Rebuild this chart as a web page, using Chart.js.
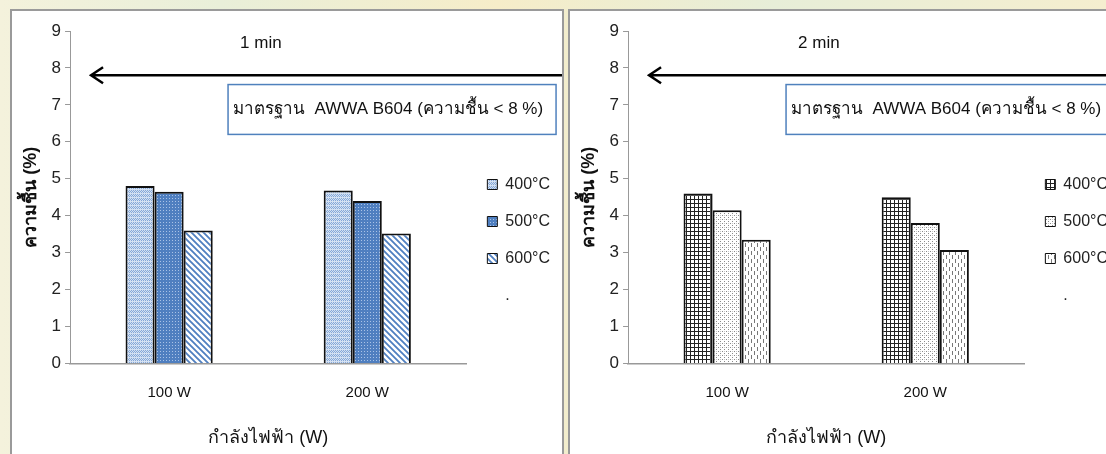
<!DOCTYPE html>
<html>
<head>
<meta charset="utf-8">
<script src="https://cdn.jsdelivr.net/npm/chart.js@4/dist/chart.umd.min.js"></script>
<style>
  html, body { margin: 0; padding: 0; }
  body {
    width: 1106px; height: 454px; overflow: hidden; position: relative;
    background: linear-gradient(90deg, #f4f2dc 0%, #e9efd9 20%, #f6edc9 45%, #e7eed8 70%, #f5eecf 100%);
  }
  .panel {
    position: absolute; top: 9px; height: 470px; background: #fff;
    border: 2px solid #9a9a9a; overflow: hidden;
  }
  #p1 { left: 10px; width: 550px; }
  #p2 { left: 568px; width: 560px; }
  .panel canvas { position: absolute; left: 0; top: 0; }
</style>
</head>
<body>
<div class="panel" id="p1"><canvas id="chart1" width="552" height="443"></canvas></div>
<div class="panel" id="p2"><canvas id="chart2" width="552" height="443"></canvas></div>
<script>
// data
const categories = ["100 W", "200 W"];
const tempLabels = ["400°C", "500°C", "600°C"];
const yTicks = [0, 1, 2, 3, 4, 5, 6, 7, 8, 9];

// 1 min
const oneMin400 = [4.8, 4.68];
const oneMin500 = [4.65, 4.4];
const oneMin600 = [3.6, 3.52];

// 2 min
const twoMin400 = [4.6, 4.5];
const twoMin500 = [4.15, 3.8];
const twoMin600 = [3.35, 3.07];

const FONT = "'Liberation Sans', 'Noto Sans', sans-serif";
const standardText = "มาตรฐาน  AWWA B604 (ความชื้น < 8 %)";

// little tiles for the hatch fills
function makePattern(w, h, draw) {
  let c = document.createElement("canvas");
  c.width = w; c.height = h;
  let g = c.getContext("2d");
  draw(g);
  return g.createPattern(c, "repeat");
}

let pat400a = makePattern(4, 4, g => {
  g.fillStyle = "#d3e0f2"; g.fillRect(0, 0, 4, 4);
  g.fillStyle = "#85a8d8";
  g.fillRect(0, 0, 1, 1); g.fillRect(1, 1, 1, 1); g.fillRect(2, 0, 1, 1);
  g.fillRect(3, 1, 1, 1); g.fillRect(1, 3, 1, 1); g.fillRect(3, 3, 1, 1);
});
let pat500a = makePattern(3, 3, g => {
  g.fillStyle = "#4f7fc0"; g.fillRect(0, 0, 3, 3);
  g.fillStyle = "#a9c2e6"; g.fillRect(1, 1, 1, 1);
});
let pat600a = makePattern(6, 6, g => {
  g.fillStyle = "#ffffff"; g.fillRect(0, 0, 6, 6);
  g.strokeStyle = "#4f7fc0"; g.lineWidth = 1.8;
  g.beginPath();
  g.moveTo(-1, -1); g.lineTo(7, 7);
  g.moveTo(-4, 2); g.lineTo(4, 10);
  g.moveTo(2, -4); g.lineTo(10, 4);
  g.stroke();
});

let pat400b = makePattern(4, 4, g => {
  g.fillStyle = "#ffffff"; g.fillRect(0, 0, 4, 4);
  g.fillStyle = "#222"; g.fillRect(0, 0, 4, 1); g.fillRect(0, 0, 1, 4);
});
let pat500b = makePattern(4, 4, g => {
  g.fillStyle = "#ffffff"; g.fillRect(0, 0, 4, 4);
  g.fillStyle = "#8a8a8a"; g.fillRect(0, 0, 1, 1); g.fillRect(2, 2, 1, 1);
  g.fillStyle = "#c8c8c8"; g.fillRect(2, 0, 1, 1);
});
let pat600b = makePattern(6, 8, g => {
  g.fillStyle = "#ffffff"; g.fillRect(0, 0, 6, 8);
  g.fillStyle = "#777"; g.fillRect(1, 0, 1, 4); g.fillRect(4, 4, 1, 4);
});

// arrow, caption and standard box drawn over the plot
function notesPlugin(caption) {
  return {
    id: "notes",
    afterDraw(chart) {
      let ctx = chart.ctx;
      let y = chart.scales.y;
      let left = chart.chartArea.left;
      let w = chart.width;
      ctx.save();

      ctx.fillStyle = "#111";
      ctx.font = "17px " + FONT;
      ctx.textBaseline = "middle";
      ctx.fillText(caption, left + 170, y.getPixelForValue(8.68));

      let ay = y.getPixelForValue(7.8);
      ctx.strokeStyle = "#000";
      ctx.lineWidth = 2.5;
      ctx.beginPath();
      ctx.moveTo(w, ay); ctx.lineTo(left + 22, ay);
      ctx.moveTo(left + 33, ay - 8); ctx.lineTo(left + 21, ay); ctx.lineTo(left + 33, ay + 8);
      ctx.stroke();

      let top = y.getPixelForValue(7.55), bot = y.getPixelForValue(6.2);
      ctx.fillStyle = "#fff";
      ctx.fillRect(left + 158, top, 328, bot - top);
      ctx.strokeStyle = "#4f81bd";
      ctx.lineWidth = 1.5;
      ctx.strokeRect(left + 158, top, 328, bot - top);
      ctx.fillStyle = "#111";
      ctx.font = "17px " + FONT;
      ctx.fillText(standardText, left + 163, (top + bot) / 2);
      ctx.restore();
    }
  };
}

function renderChart(canvasId, caption, series, patterns) {
  let ctx = document.getElementById(canvasId).getContext("2d");
  new Chart(ctx, {
    type: "bar",
    data: {
      labels: categories,
      datasets: series.map((vals, i) => ({
        label: tempLabels[i],
        data: vals,
        backgroundColor: patterns[i],
        borderColor: "#111",
        borderWidth: { top: 2, left: 2, right: 2, bottom: 0 },
        borderSkipped: "start",
        categoryPercentage: 0.44,
        barPercentage: 1
      }))
    },
    options: {
      responsive: false,
      animation: false,
      layout: { padding: { top: 20, right: 4, bottom: 5, left: 8 } },
      plugins: {
        tooltip: { enabled: false },
        legend: {
          position: "right",
          align: "center",
          labels: {
            boxWidth: 10,
            boxHeight: 10,
            padding: 21,
            color: "#222",
            font: { family: FONT, size: 16 },
            generateLabels(chart) {
              let items = Chart.defaults.plugins.legend.labels.generateLabels(chart);
              items.forEach(it => { it.lineWidth = 1; it.strokeStyle = "#111"; });
              items.push({ text: ".", fillStyle: "rgba(0,0,0,0)", strokeStyle: "rgba(0,0,0,0)", lineWidth: 0, hidden: false });
              return items;
            }
          }
        }
      },
      scales: {
        x: {
          grid: { display: true, drawOnChartArea: false, drawTicks: false, color: "#999" },
          border: { display: true, color: "#999", width: 1.5 },
          ticks: { color: "#111", padding: 20, font: { family: FONT, size: 15 } },
          title: { display: true, text: "กำลังไฟฟ้า (W)", color: "#111", padding: { top: 6, bottom: 0 }, font: { family: FONT, size: 18 } }
        },
        y: {
          min: yTicks[0],
          max: yTicks[yTicks.length - 1],
          afterBuildTicks(scale) { scale.ticks = yTicks.map(v => ({ value: v })); },
          grid: { display: true, drawOnChartArea: false, drawTicks: true, tickLength: 5, color: "#999" },
          border: { display: true, color: "#999", width: 1 },
          ticks: { color: "#222", padding: 4, font: { family: FONT, size: 17 } },
          title: { display: true, text: "ความชื้น (%)", color: "#111", padding: { top: 0, bottom: 6 }, font: { family: FONT, size: 18, weight: "bold" } }
        }
      }
    },
    plugins: [notesPlugin(caption)]
  });
}

renderChart("chart1", "1 min", [oneMin400, oneMin500, oneMin600], [pat400a, pat500a, pat600a]);
renderChart("chart2", "2 min", [twoMin400, twoMin500, twoMin600], [pat400b, pat500b, pat600b]);
</script>
</body>
</html>
